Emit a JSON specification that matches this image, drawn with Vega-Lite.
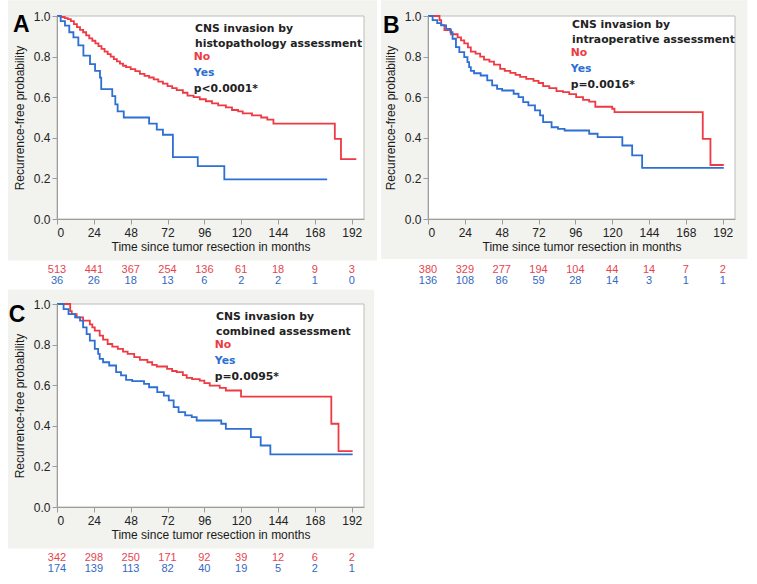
{
  "$schema": "https://vega.github.io/schema/vega-lite/v6.json",
  "background": "white",
  "padding": {"left": 7, "top": 0, "right": 0, "bottom": 0},
  "columns": 2,
  "bounds": "flush",
  "align": "each",
  "spacing": {"row": 23, "column": 64},
  "resolve": {"scale": {"color": "independent", "x": "independent", "y": "independent"}, "legend": {"color": "independent"}},
  "config": {
    "font": "Liberation Sans",
    "view": {"stroke": null},
    "axis": {"zindex": 1, "grid": false, "domainColor": "#9c9c9c", "tickColor": "#9c9c9c", "labelColor": "#222222", "titleColor": "#1a1a1a", "labelFont": "Liberation Sans", "titleFont": "Liberation Sans", "labelFontSize": 12, "titleFontSize": 12, "titleFontWeight": "normal", "tickSize": 5, "labelOverlap": false},
    "legend": {"zindex": 1, "padding": 0, "titleFont": "DejaVu Sans", "titleFontSize": 10.8, "titleFontWeight": "bold", "titleColor": "#222222", "titleLineHeight": 15, "titleLimit": 400, "titlePadding": 3, "labelFont": "DejaVu Sans", "labelFontSize": 10.8, "labelFontWeight": "bold", "labelLimit": 400, "labelOffset": 0, "rowPadding": 4, "symbolSize": 0, "symbolStrokeWidth": 0, "symbolOpacity": 0, "direction": "vertical"}
  },
  "datasets": {
    "curvesA": [
      {"t":0,"s":1,"group":"No"},{"t":2.4,"s":0.995,"group":"No"},{"t":5,"s":0.99,"group":"No"},{"t":7,"s":0.985,"group":"No"},{"t":9,"s":0.975,"group":"No"},{"t":11,"s":0.96,"group":"No"},{"t":13,"s":0.945,"group":"No"},{"t":15,"s":0.932,"group":"No"},{"t":17,"s":0.92,"group":"No"},{"t":19,"s":0.905,"group":"No"},{"t":21,"s":0.89,"group":"No"},{"t":23,"s":0.878,"group":"No"},{"t":25,"s":0.865,"group":"No"},{"t":27,"s":0.852,"group":"No"},{"t":29,"s":0.838,"group":"No"},{"t":31,"s":0.825,"group":"No"},{"t":33,"s":0.812,"group":"No"},{"t":35,"s":0.8,"group":"No"},{"t":37,"s":0.788,"group":"No"},{"t":39,"s":0.776,"group":"No"},{"t":41,"s":0.765,"group":"No"},{"t":43,"s":0.755,"group":"No"},{"t":45,"s":0.748,"group":"No"},{"t":48,"s":0.738,"group":"No"},{"t":51,"s":0.728,"group":"No"},{"t":54,"s":0.715,"group":"No"},{"t":57,"s":0.705,"group":"No"},{"t":60,"s":0.697,"group":"No"},{"t":63,"s":0.688,"group":"No"},{"t":66,"s":0.677,"group":"No"},{"t":69,"s":0.667,"group":"No"},{"t":72,"s":0.655,"group":"No"},{"t":75,"s":0.645,"group":"No"},{"t":78,"s":0.635,"group":"No"},{"t":82,"s":0.622,"group":"No"},{"t":85,"s":0.608,"group":"No"},{"t":89,"s":0.6,"group":"No"},{"t":93,"s":0.59,"group":"No"},{"t":97,"s":0.58,"group":"No"},{"t":101,"s":0.57,"group":"No"},{"t":105,"s":0.56,"group":"No"},{"t":110,"s":0.55,"group":"No"},{"t":114,"s":0.537,"group":"No"},{"t":118,"s":0.53,"group":"No"},{"t":121,"s":0.52,"group":"No"},{"t":127,"s":0.51,"group":"No"},{"t":133,"s":0.5,"group":"No"},{"t":137,"s":0.49,"group":"No"},{"t":141,"s":0.47,"group":"No"},{"t":181,"s":0.395,"group":"No"},{"t":185,"s":0.295,"group":"No"},{"t":195,"s":0.295,"group":"No"},
      {"t":0,"s":1,"group":"Yes"},{"t":2.4,"s":0.975,"group":"Yes"},{"t":5.2,"s":0.953,"group":"Yes"},{"t":8,"s":0.92,"group":"Yes"},{"t":10.7,"s":0.895,"group":"Yes"},{"t":13.9,"s":0.855,"group":"Yes"},{"t":17.2,"s":0.805,"group":"Yes"},{"t":21.5,"s":0.763,"group":"Yes"},{"t":24.8,"s":0.73,"group":"Yes"},{"t":28,"s":0.696,"group":"Yes"},{"t":28.8,"s":0.64,"group":"Yes"},{"t":36,"s":0.605,"group":"Yes"},{"t":38,"s":0.565,"group":"Yes"},{"t":39.5,"s":0.53,"group":"Yes"},{"t":43.5,"s":0.5,"group":"Yes"},{"t":60,"s":0.47,"group":"Yes"},{"t":65,"s":0.44,"group":"Yes"},{"t":69,"s":0.415,"group":"Yes"},{"t":75.5,"s":0.305,"group":"Yes"},{"t":91.7,"s":0.26,"group":"Yes"},{"t":109,"s":0.195,"group":"Yes"},{"t":176,"s":0.195,"group":"Yes"}
    ],
    "curvesB": [
      {"t":0,"s":1,"group":"No"},{"t":7.5,"s":0.98,"group":"No"},{"t":8.6,"s":0.955,"group":"No"},{"t":10.7,"s":0.93,"group":"No"},{"t":15,"s":0.91,"group":"No"},{"t":19.3,"s":0.895,"group":"No"},{"t":21.5,"s":0.88,"group":"No"},{"t":23.6,"s":0.865,"group":"No"},{"t":26,"s":0.845,"group":"No"},{"t":27.9,"s":0.825,"group":"No"},{"t":31,"s":0.815,"group":"No"},{"t":34,"s":0.8,"group":"No"},{"t":36.5,"s":0.785,"group":"No"},{"t":40,"s":0.775,"group":"No"},{"t":43,"s":0.76,"group":"No"},{"t":47,"s":0.74,"group":"No"},{"t":50,"s":0.73,"group":"No"},{"t":53.6,"s":0.72,"group":"No"},{"t":57,"s":0.71,"group":"No"},{"t":60,"s":0.7,"group":"No"},{"t":64,"s":0.69,"group":"No"},{"t":68.7,"s":0.68,"group":"No"},{"t":72,"s":0.67,"group":"No"},{"t":75,"s":0.655,"group":"No"},{"t":79,"s":0.645,"group":"No"},{"t":83.7,"s":0.63,"group":"No"},{"t":88,"s":0.625,"group":"No"},{"t":92,"s":0.615,"group":"No"},{"t":96.5,"s":0.6,"group":"No"},{"t":101,"s":0.587,"group":"No"},{"t":105,"s":0.578,"group":"No"},{"t":109,"s":0.553,"group":"No"},{"t":120,"s":0.543,"group":"No"},{"t":121.5,"s":0.526,"group":"No"},{"t":179,"s":0.395,"group":"No"},{"t":184,"s":0.266,"group":"No"},{"t":192.7,"s":0.266,"group":"No"},
      {"t":0,"s":1,"group":"Yes"},{"t":3,"s":0.98,"group":"Yes"},{"t":6,"s":0.965,"group":"Yes"},{"t":8.6,"s":0.954,"group":"Yes"},{"t":11.8,"s":0.937,"group":"Yes"},{"t":14.6,"s":0.92,"group":"Yes"},{"t":16,"s":0.888,"group":"Yes"},{"t":18.2,"s":0.847,"group":"Yes"},{"t":20.4,"s":0.822,"group":"Yes"},{"t":23.6,"s":0.797,"group":"Yes"},{"t":25.7,"s":0.773,"group":"Yes"},{"t":26.8,"s":0.748,"group":"Yes"},{"t":27.9,"s":0.73,"group":"Yes"},{"t":30,"s":0.718,"group":"Yes"},{"t":34.3,"s":0.707,"group":"Yes"},{"t":38.6,"s":0.683,"group":"Yes"},{"t":41.8,"s":0.658,"group":"Yes"},{"t":45,"s":0.641,"group":"Yes"},{"t":48.3,"s":0.633,"group":"Yes"},{"t":55.8,"s":0.617,"group":"Yes"},{"t":59,"s":0.6,"group":"Yes"},{"t":62,"s":0.576,"group":"Yes"},{"t":65.4,"s":0.56,"group":"Yes"},{"t":69.7,"s":0.535,"group":"Yes"},{"t":73,"s":0.51,"group":"Yes"},{"t":75,"s":0.477,"group":"Yes"},{"t":80.5,"s":0.452,"group":"Yes"},{"t":84.7,"s":0.444,"group":"Yes"},{"t":89,"s":0.436,"group":"Yes"},{"t":105,"s":0.42,"group":"Yes"},{"t":110.5,"s":0.403,"group":"Yes"},{"t":126.6,"s":0.362,"group":"Yes"},{"t":133,"s":0.313,"group":"Yes"},{"t":139.5,"s":0.252,"group":"Yes"},{"t":192.7,"s":0.252,"group":"Yes"}
    ],
    "curvesC": [
      {"t":0,"s":1,"group":"No"},{"t":8.6,"s":0.965,"group":"No"},{"t":9.6,"s":0.95,"group":"No"},{"t":12.8,"s":0.934,"group":"No"},{"t":17,"s":0.918,"group":"No"},{"t":21.4,"s":0.9,"group":"No"},{"t":23,"s":0.885,"group":"No"},{"t":24.6,"s":0.869,"group":"No"},{"t":27.8,"s":0.844,"group":"No"},{"t":30,"s":0.825,"group":"No"},{"t":33,"s":0.803,"group":"No"},{"t":36,"s":0.79,"group":"No"},{"t":39.6,"s":0.779,"group":"No"},{"t":43,"s":0.765,"group":"No"},{"t":46,"s":0.754,"group":"No"},{"t":50.3,"s":0.738,"group":"No"},{"t":54,"s":0.725,"group":"No"},{"t":58.9,"s":0.713,"group":"No"},{"t":62,"s":0.7,"group":"No"},{"t":65,"s":0.692,"group":"No"},{"t":71.7,"s":0.68,"group":"No"},{"t":75,"s":0.67,"group":"No"},{"t":78,"s":0.664,"group":"No"},{"t":82,"s":0.65,"group":"No"},{"t":84.5,"s":0.636,"group":"No"},{"t":88,"s":0.63,"group":"No"},{"t":93,"s":0.623,"group":"No"},{"t":96,"s":0.61,"group":"No"},{"t":99.5,"s":0.598,"group":"No"},{"t":106,"s":0.587,"group":"No"},{"t":110,"s":0.574,"group":"No"},{"t":119.9,"s":0.544,"group":"No"},{"t":178.7,"s":0.41,"group":"No"},{"t":183.4,"s":0.275,"group":"No"},{"t":192.6,"s":0.275,"group":"No"},
      {"t":0,"s":1,"group":"Yes"},{"t":4.3,"s":0.975,"group":"Yes"},{"t":7.5,"s":0.95,"group":"Yes"},{"t":11.8,"s":0.934,"group":"Yes"},{"t":15,"s":0.918,"group":"Yes"},{"t":17,"s":0.885,"group":"Yes"},{"t":19.3,"s":0.852,"group":"Yes"},{"t":21.4,"s":0.82,"group":"Yes"},{"t":24.6,"s":0.779,"group":"Yes"},{"t":26.8,"s":0.754,"group":"Yes"},{"t":27.8,"s":0.73,"group":"Yes"},{"t":30,"s":0.713,"group":"Yes"},{"t":34,"s":0.697,"group":"Yes"},{"t":38.5,"s":0.664,"group":"Yes"},{"t":41.7,"s":0.648,"group":"Yes"},{"t":45,"s":0.626,"group":"Yes"},{"t":49,"s":0.62,"group":"Yes"},{"t":56.7,"s":0.607,"group":"Yes"},{"t":60,"s":0.59,"group":"Yes"},{"t":65.3,"s":0.566,"group":"Yes"},{"t":69.6,"s":0.549,"group":"Yes"},{"t":72.8,"s":0.525,"group":"Yes"},{"t":76,"s":0.492,"group":"Yes"},{"t":79.2,"s":0.467,"group":"Yes"},{"t":83.5,"s":0.451,"group":"Yes"},{"t":87.8,"s":0.443,"group":"Yes"},{"t":91,"s":0.426,"group":"Yes"},{"t":107,"s":0.41,"group":"Yes"},{"t":110,"s":0.385,"group":"Yes"},{"t":126.3,"s":0.344,"group":"Yes"},{"t":132.7,"s":0.303,"group":"Yes"},{"t":139,"s":0.259,"group":"Yes"},{"t":192.6,"s":0.259,"group":"Yes"}
    ],
    "riskA": [
      {"t":0,"group":"No","n":513},{"t":24,"group":"No","n":441},{"t":48,"group":"No","n":367},{"t":72,"group":"No","n":254},{"t":96,"group":"No","n":136},{"t":120,"group":"No","n":61},{"t":144,"group":"No","n":18},{"t":168,"group":"No","n":9},{"t":192,"group":"No","n":3},
      {"t":0,"group":"Yes","n":36},{"t":24,"group":"Yes","n":26},{"t":48,"group":"Yes","n":18},{"t":72,"group":"Yes","n":13},{"t":96,"group":"Yes","n":6},{"t":120,"group":"Yes","n":2},{"t":144,"group":"Yes","n":2},{"t":168,"group":"Yes","n":1},{"t":192,"group":"Yes","n":0}
    ],
    "riskB": [
      {"t":0,"group":"No","n":380},{"t":24,"group":"No","n":329},{"t":48,"group":"No","n":277},{"t":72,"group":"No","n":194},{"t":96,"group":"No","n":104},{"t":120,"group":"No","n":44},{"t":144,"group":"No","n":14},{"t":168,"group":"No","n":7},{"t":192,"group":"No","n":2},
      {"t":0,"group":"Yes","n":136},{"t":24,"group":"Yes","n":108},{"t":48,"group":"Yes","n":86},{"t":72,"group":"Yes","n":59},{"t":96,"group":"Yes","n":28},{"t":120,"group":"Yes","n":14},{"t":144,"group":"Yes","n":3},{"t":168,"group":"Yes","n":1},{"t":192,"group":"Yes","n":1}
    ],
    "riskC": [
      {"t":0,"group":"No","n":342},{"t":24,"group":"No","n":298},{"t":48,"group":"No","n":250},{"t":72,"group":"No","n":171},{"t":96,"group":"No","n":92},{"t":120,"group":"No","n":39},{"t":144,"group":"No","n":12},{"t":168,"group":"No","n":6},{"t":192,"group":"No","n":2},
      {"t":0,"group":"Yes","n":174},{"t":24,"group":"Yes","n":139},{"t":48,"group":"Yes","n":113},{"t":72,"group":"Yes","n":82},{"t":96,"group":"Yes","n":40},{"t":120,"group":"Yes","n":19},{"t":144,"group":"Yes","n":5},{"t":168,"group":"Yes","n":2},{"t":192,"group":"Yes","n":1}
    ]
  },
  "concat": [
    {
      "width": 307, "height": 203,
      "layer": [
        {"data": {"values": [{}]}, "mark": {"type": "rect", "clip": false, "fill": "#f2f2ee"}, "encoding": {
          "x": {"datum": -32, "type": "quantitative", "scale": {"domain": [0, 200], "nice": false}, "axis": {"zindex": 1, "labelOverlap": false, "values": [0,24,48,72,96,120,144,168,192], "title": "Time since tumor resection in months", "labelPadding": 3, "titlePadding": 3}},
          "x2": {"datum": 208.5},
          "y": {"datum": -0.204, "type": "quantitative", "scale": {"domain": [0, 1], "nice": false}, "axis": {"zindex": 1, "labelOverlap": false, "values": [0,0.2,0.4,0.6,0.8,1], "format": ".1f", "title": "Recurrence-free probability", "titlePadding": 7, "labelPadding": 2}},
          "y2": {"datum": 1.077}}},
        {"data": {"values": [{}]}, "mark": {"type": "rect", "fill": "white", "stroke": "#bcbcbc", "strokeWidth": 1}, "encoding": {
          "x": {"datum": 0, "type": "quantitative", "axis": {"zindex": 1, "labelOverlap": false, "values": [0,24,48,72,96,120,144,168,192], "title": "Time since tumor resection in months", "labelPadding": 3, "titlePadding": 3}},
          "x2": {"datum": 200},
          "y": {"datum": 0, "type": "quantitative", "axis": {"zindex": 1, "labelOverlap": false, "values": [0,0.2,0.4,0.6,0.8,1], "format": ".1f", "title": "Recurrence-free probability", "titlePadding": 7, "labelPadding": 2}},
          "y2": {"datum": 1}}},
        {"data": {"values": [{}]}, "mark": {"type": "text", "text": "A", "clip": false, "align": "left", "baseline": "alphabetic", "fontSize": 23, "fontWeight": "bold", "font": "Liberation Sans", "color": "#000000"}, "encoding": {
          "x": {"datum": -28.7, "type": "quantitative", "axis": {"zindex": 1, "labelOverlap": false, "values": [0,24,48,72,96,120,144,168,192], "title": "Time since tumor resection in months", "labelPadding": 3, "titlePadding": 3}},
          "y": {"datum": 0.92, "type": "quantitative", "axis": {"zindex": 1, "labelOverlap": false, "values": [0,0.2,0.4,0.6,0.8,1], "format": ".1f", "title": "Recurrence-free probability", "titlePadding": 7, "labelPadding": 2}}}},
        {"data": {"name": "curvesA"}, "mark": {"type": "line", "interpolate": "step-after", "strokeWidth": 1.8},
          "encoding": {
            "x": {"field": "t", "type": "quantitative", "scale": {"domain": [0, 200], "nice": false}, "axis": {"zindex": 1, "labelOverlap": false, "values": [0,24,48,72,96,120,144,168,192], "title": "Time since tumor resection in months", "labelPadding": 3, "titlePadding": 3}},
            "y": {"field": "s", "type": "quantitative", "scale": {"domain": [0, 1], "nice": false}, "axis": {"zindex": 1, "labelOverlap": false, "values": [0,0.2,0.4,0.6,0.8,1], "format": ".1f", "title": "Recurrence-free probability", "titlePadding": 7, "labelPadding": 2}},
            "color": {"field": "group", "type": "nominal", "scale": {"domain": ["No", "Yes", "p<0.0001*"], "range": ["#ee3a43", "#2d6fd4", "#222222"]},
              "legend": {"title": ["CNS invasion by", "histopathology assessment"], "orient": "none", "legendX": 138, "legendY": 7, "zindex": 1, "symbolSize": 0, "symbolType": "circle", "symbolStrokeWidth": 0, "labelOffset": -12,
                "encode": {"labels": {"update": {"fill": [{"test": "datum.value === 'No'", "value": "#ee3a43"}, {"test": "datum.value === 'Yes'", "value": "#2d6fd4"}, {"value": "#222222"}]}}}}}
          }}
      ]
    },
    {
      "width": 307, "height": 203,
      "layer": [
        {"data": {"values": [{}]}, "mark": {"type": "rect", "clip": false, "fill": "#f2f2ee"}, "encoding": {
          "x": {"datum": -30.5, "type": "quantitative", "scale": {"domain": [0, 200], "nice": false}, "axis": {"zindex": 1, "labelOverlap": false, "values": [0,24,48,72,96,120,144,168,192], "title": "Time since tumor resection in months", "labelPadding": 3, "titlePadding": 3}},
          "x2": {"datum": 208},
          "y": {"datum": -0.197, "type": "quantitative", "scale": {"domain": [0, 1], "nice": false}, "axis": {"zindex": 1, "labelOverlap": false, "values": [0,0.2,0.4,0.6,0.8,1], "format": ".1f", "title": "Recurrence-free probability", "titlePadding": 7, "labelPadding": 2}},
          "y2": {"datum": 1.077}}},
        {"data": {"values": [{}]}, "mark": {"type": "rect", "fill": "white", "stroke": "#bcbcbc", "strokeWidth": 1}, "encoding": {
          "x": {"datum": 0, "type": "quantitative", "axis": {"zindex": 1, "labelOverlap": false, "values": [0,24,48,72,96,120,144,168,192], "title": "Time since tumor resection in months", "labelPadding": 3, "titlePadding": 3}},
          "x2": {"datum": 200},
          "y": {"datum": 0, "type": "quantitative", "axis": {"zindex": 1, "labelOverlap": false, "values": [0,0.2,0.4,0.6,0.8,1], "format": ".1f", "title": "Recurrence-free probability", "titlePadding": 7, "labelPadding": 2}},
          "y2": {"datum": 1}}},
        {"data": {"values": [{}]}, "mark": {"type": "text", "text": "B", "clip": false, "align": "left", "baseline": "alphabetic", "fontSize": 23, "fontWeight": "bold", "font": "Liberation Sans", "color": "#000000"}, "encoding": {
          "x": {"datum": -29.3, "type": "quantitative", "axis": {"zindex": 1, "labelOverlap": false, "values": [0,24,48,72,96,120,144,168,192], "title": "Time since tumor resection in months", "labelPadding": 3, "titlePadding": 3}},
          "y": {"datum": 0.918, "type": "quantitative", "axis": {"zindex": 1, "labelOverlap": false, "values": [0,0.2,0.4,0.6,0.8,1], "format": ".1f", "title": "Recurrence-free probability", "titlePadding": 7, "labelPadding": 2}}}},
        {"data": {"name": "curvesB"}, "mark": {"type": "line", "interpolate": "step-after", "strokeWidth": 1.8},
          "encoding": {
            "x": {"field": "t", "type": "quantitative", "scale": {"domain": [0, 200], "nice": false}, "axis": {"zindex": 1, "labelOverlap": false, "values": [0,24,48,72,96,120,144,168,192], "title": "Time since tumor resection in months", "labelPadding": 3, "titlePadding": 3}},
            "y": {"field": "s", "type": "quantitative", "scale": {"domain": [0, 1], "nice": false}, "axis": {"zindex": 1, "labelOverlap": false, "values": [0,0.2,0.4,0.6,0.8,1], "format": ".1f", "title": "Recurrence-free probability", "titlePadding": 7, "labelPadding": 2}},
            "color": {"field": "group", "type": "nominal", "scale": {"domain": ["No", "Yes", "p=0.0016*"], "range": ["#ee3a43", "#2d6fd4", "#222222"]},
              "legend": {"title": ["CNS invasion by", "intraoperative assessment"], "orient": "none", "legendX": 144, "legendY": 3, "zindex": 1, "symbolSize": 0, "symbolType": "circle", "symbolStrokeWidth": 0, "labelOffset": -12,
                "encode": {"labels": {"update": {"fill": [{"test": "datum.value === 'No'", "value": "#ee3a43"}, {"test": "datum.value === 'Yes'", "value": "#2d6fd4"}, {"value": "#222222"}]}}}}}
          }}
      ]
    },
    {
      "width": 307, "height": 39,
      "data": {"name": "riskA"},
      "mark": {"type": "text", "fontSize": 11, "font": "Liberation Sans", "baseline": "top", "align": "center"},
      "encoding": {
        "x": {"field": "t", "type": "quantitative", "scale": {"domain": [0, 200], "nice": false}, "axis": null},
        "y": {"field": "group", "type": "ordinal", "scale": {"type": "band", "domain": ["No", "Yes"], "paddingInner": 0, "paddingOuter": 0.75, "align": 1}, "axis": null},
        "text": {"field": "n", "type": "quantitative"},
        "color": {"field": "group", "type": "nominal", "scale": {"domain": ["No", "Yes"], "range": ["#e8444c", "#3568bf"]}, "legend": null}
      }
    },
    {
      "width": 307, "height": 39,
      "data": {"name": "riskB"},
      "mark": {"type": "text", "fontSize": 11, "font": "Liberation Sans", "baseline": "top", "align": "center"},
      "encoding": {
        "x": {"field": "t", "type": "quantitative", "scale": {"domain": [0, 200], "nice": false}, "axis": null},
        "y": {"field": "group", "type": "ordinal", "scale": {"type": "band", "domain": ["No", "Yes"], "paddingInner": 0, "paddingOuter": 0.75, "align": 1}, "axis": null},
        "text": {"field": "n", "type": "quantitative"},
        "color": {"field": "group", "type": "nominal", "scale": {"domain": ["No", "Yes"], "range": ["#e8444c", "#3568bf"]}, "legend": null}
      }
    },
    {
      "width": 307, "height": 203,
      "layer": [
        {"data": {"values": [{}]}, "mark": {"type": "rect", "clip": false, "fill": "#f2f2ee"}, "encoding": {
          "x": {"datum": -32, "type": "quantitative", "scale": {"domain": [0, 200], "nice": false}, "axis": {"zindex": 1, "labelOverlap": false, "values": [0,24,48,72,96,120,144,168,192], "title": "Time since tumor resection in months", "labelPadding": 3, "titlePadding": 3}},
          "x2": {"datum": 206.5},
          "y": {"datum": -0.204, "type": "quantitative", "scale": {"domain": [0, 1], "nice": false}, "axis": {"zindex": 1, "labelOverlap": false, "values": [0,0.2,0.4,0.6,0.8,1], "format": ".1f", "title": "Recurrence-free probability", "titlePadding": 7, "labelPadding": 2}},
          "y2": {"datum": 1.07}}},
        {"data": {"values": [{}]}, "mark": {"type": "rect", "fill": "white", "stroke": "#bcbcbc", "strokeWidth": 1}, "encoding": {
          "x": {"datum": 0, "type": "quantitative", "axis": {"zindex": 1, "labelOverlap": false, "values": [0,24,48,72,96,120,144,168,192], "title": "Time since tumor resection in months", "labelPadding": 3, "titlePadding": 3}},
          "x2": {"datum": 200},
          "y": {"datum": 0, "type": "quantitative", "axis": {"zindex": 1, "labelOverlap": false, "values": [0,0.2,0.4,0.6,0.8,1], "format": ".1f", "title": "Recurrence-free probability", "titlePadding": 7, "labelPadding": 2}},
          "y2": {"datum": 1}}},
        {"data": {"values": [{}]}, "mark": {"type": "text", "text": "C", "clip": false, "align": "left", "baseline": "alphabetic", "fontSize": 23, "fontWeight": "bold", "font": "Liberation Sans", "color": "#000000"}, "encoding": {
          "x": {"datum": -31.4, "type": "quantitative", "axis": {"zindex": 1, "labelOverlap": false, "values": [0,24,48,72,96,120,144,168,192], "title": "Time since tumor resection in months", "labelPadding": 3, "titlePadding": 3}},
          "y": {"datum": 0.91, "type": "quantitative", "axis": {"zindex": 1, "labelOverlap": false, "values": [0,0.2,0.4,0.6,0.8,1], "format": ".1f", "title": "Recurrence-free probability", "titlePadding": 7, "labelPadding": 2}}}},
        {"data": {"name": "curvesC"}, "mark": {"type": "line", "interpolate": "step-after", "strokeWidth": 1.8},
          "encoding": {
            "x": {"field": "t", "type": "quantitative", "scale": {"domain": [0, 200], "nice": false}, "axis": {"zindex": 1, "labelOverlap": false, "values": [0,24,48,72,96,120,144,168,192], "title": "Time since tumor resection in months", "labelPadding": 3, "titlePadding": 3}},
            "y": {"field": "s", "type": "quantitative", "scale": {"domain": [0, 1], "nice": false}, "axis": {"zindex": 1, "labelOverlap": false, "values": [0,0.2,0.4,0.6,0.8,1], "format": ".1f", "title": "Recurrence-free probability", "titlePadding": 7, "labelPadding": 2}},
            "color": {"field": "group", "type": "nominal", "scale": {"domain": ["No", "Yes", "p=0.0095*"], "range": ["#ee3a43", "#2d6fd4", "#222222"]},
              "legend": {"title": ["CNS invasion by", "combined assessment"], "orient": "none", "legendX": 159, "legendY": 6.5, "zindex": 1, "symbolSize": 0, "symbolType": "circle", "symbolStrokeWidth": 0, "labelOffset": -12,
                "encode": {"labels": {"update": {"fill": [{"test": "datum.value === 'No'", "value": "#ee3a43"}, {"test": "datum.value === 'Yes'", "value": "#2d6fd4"}, {"value": "#222222"}]}}}}}
          }}
      ]
    },
    {
      "width": 1, "height": 1,
      "data": {"values": [{}]},
      "mark": {"type": "point", "opacity": 0},
      "encoding": {}
    },
    {
      "width": 307, "height": 39,
      "data": {"name": "riskC"},
      "mark": {"type": "text", "fontSize": 11, "font": "Liberation Sans", "baseline": "top", "align": "center"},
      "encoding": {
        "x": {"field": "t", "type": "quantitative", "scale": {"domain": [0, 200], "nice": false}, "axis": null},
        "y": {"field": "group", "type": "ordinal", "scale": {"type": "band", "domain": ["No", "Yes"], "paddingInner": 0, "paddingOuter": 0.75, "align": 1}, "axis": null},
        "text": {"field": "n", "type": "quantitative"},
        "color": {"field": "group", "type": "nominal", "scale": {"domain": ["No", "Yes"], "range": ["#e8444c", "#3568bf"]}, "legend": null}
      }
    }
  ]
}
